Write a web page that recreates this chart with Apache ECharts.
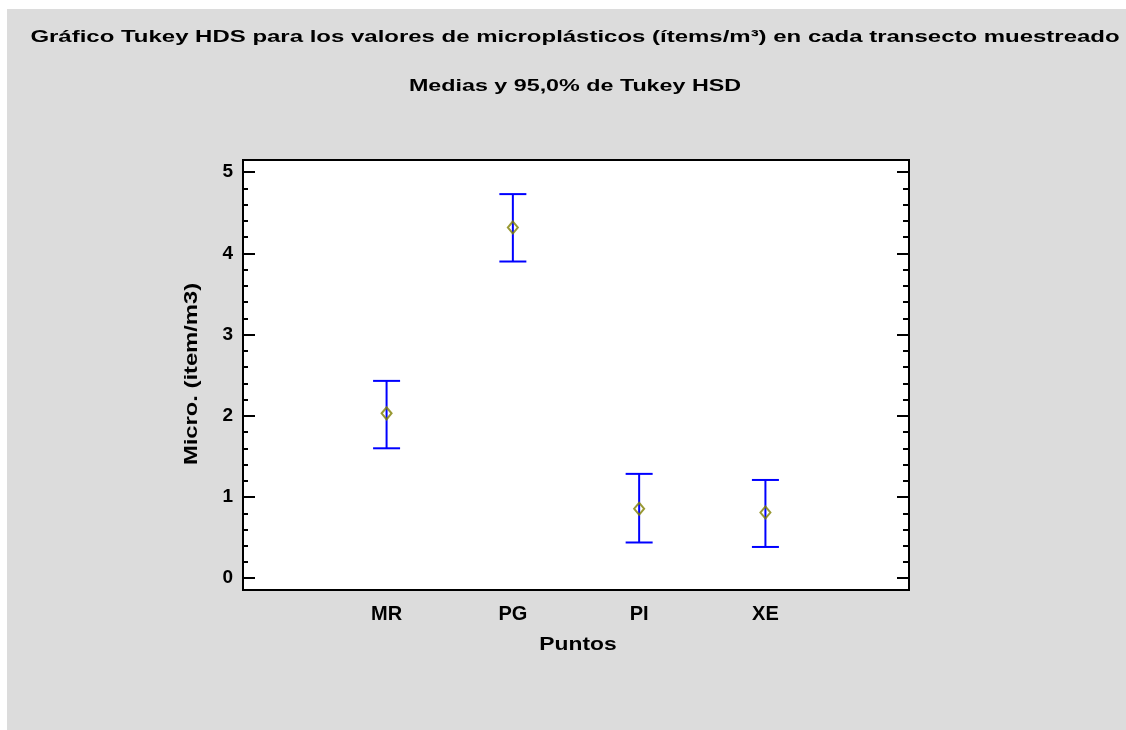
<!DOCTYPE html>
<html>
<head>
<meta charset="utf-8">
<script src="https://cdn.jsdelivr.net/npm/echarts@6/dist/echarts.min.js"></script>
<style>
html,body{margin:0;padding:0;background:#ffffff;}
#chart{position:absolute;left:0;top:0;width:1126px;height:730px;}
</style>
</head>
<body>
<div id="chart"></div>
<script>
// ---- data ----
var categories = ['MR', 'PG', 'PI', 'XE'];
var categoryPos = [1, 2, 3, 4];
var means = [2.03, 4.32, 0.855, 0.81];
var lower = [1.60, 3.90, 0.44, 0.385];
var upper = [2.43, 4.73, 1.285, 1.21];
var yMajorTicks = [0, 1, 2, 3, 4, 5];
var yMinorTicks = [0.2, 0.4, 0.6, 0.8, 1.2, 1.4, 1.6, 1.8, 2.2, 2.4, 2.6, 2.8,
                   3.2, 3.4, 3.6, 3.8, 4.2, 4.4, 4.6, 4.8];
var titleText = 'Gráfico Tukey HDS para los valores de microplásticos (ítems/m³) en cada transecto muestreado';
var subtitleText = 'Medias y 95,0% de Tukey HSD';
var xName = 'Puntos';
var yName = 'Micro. (item/m3)';

var FONT = '"Liberation Sans", Arial, sans-serif';
var yMin = -0.145, yMax = 5.15;
var xMin = -0.137, xMax = 5.137;

var chart = echarts.init(document.getElementById('chart'), null, {renderer: 'canvas'});

function yAxisDef(pos, values, len, labels) {
  return {
    type: 'value', position: pos, min: yMin, max: yMax,
    axisLine: {show: true, onZero: false, lineStyle: {color: '#000', width: 2}},
    axisTick: {show: true, inside: true, length: len, customValues: values,
               lineStyle: {color: '#000', width: 2}},
    axisLabel: {show: labels, customValues: values, color: '#000', fontSize: 19,
                fontWeight: 'bold', fontFamily: FONT, margin: 10},
    splitLine: {show: false}
  };
}

var yAxes = [
  yAxisDef('left', yMajorTicks, 12, true),
  yAxisDef('left', yMinorTicks, 5, false),
  yAxisDef('right', yMajorTicks, 12, false),
  yAxisDef('right', yMinorTicks, 6, false)
];

var barData = categoryPos.map(function (x, i) { return [x, lower[i], upper[i]]; });
var meanData = categoryPos.map(function (x, i) { return [x, means[i]]; });

function txt(text, x, y, size, sx, rot) {
  return {
    type: 'text', x: x, y: y, scaleX: sx, rotation: rot || 0, silent: true, z: 10,
    style: {text: text, fill: '#000', textAlign: 'center', textVerticalAlign: 'middle',
            fontSize: size, fontWeight: 'bold', fontFamily: FONT}
  };
}

var option = {
  backgroundColor: '#ffffff',
  animation: false,
  graphic: [
    {type: 'rect', z: -100, silent: true,
     shape: {x: 7, y: 9, width: 1126, height: 730}, style: {fill: '#dcdcdc'}},
    txt(titleText, 575, 37, 17, 1.41),
    txt(subtitleText, 575, 86, 17, 1.37),
    txt(xName, 578, 645, 19, 1.2),
    txt(yName, 192, 374, 19, 1.25, Math.PI / 2)
  ],
  grid: {
    left: 243, top: 160, width: 666, height: 430,
    show: true, backgroundColor: '#ffffff', borderColor: '#000', borderWidth: 2
  },
  xAxis: {
    type: 'value', min: xMin, max: xMax,
    axisLine: {show: true, onZero: false, lineStyle: {color: '#000', width: 2}},
    axisTick: {show: false},
    axisLabel: {
      customValues: categoryPos, color: '#000', fontSize: 20, fontWeight: 'bold',
      fontFamily: FONT, margin: 14,
      formatter: function (v) { var i = categoryPos.indexOf(Math.round(v)); return i >= 0 ? categories[i] : ''; }
    },
    splitLine: {show: false}
  },
  yAxis: yAxes,
  series: [{
    type: 'custom',
    data: barData,
    encode: {x: 0, y: [1, 2]},
    z: 2,
    renderItem: function (params, api) {
      var x = api.value(0);
      var lo = api.coord([x, api.value(1)]);
      var hi = api.coord([x, api.value(2)]);
      var half = 13.5;
      var st = {stroke: '#0000ff', lineWidth: 2};
      return {
        type: 'group',
        children: [
          {type: 'line', shape: {x1: lo[0], y1: lo[1], x2: hi[0], y2: hi[1]}, style: st},
          {type: 'line', shape: {x1: hi[0] - half, y1: hi[1], x2: hi[0] + half, y2: hi[1]}, style: st},
          {type: 'line', shape: {x1: lo[0] - half, y1: lo[1], x2: lo[0] + half, y2: lo[1]}, style: st}
        ]
      };
    }
  }, {
    type: 'scatter',
    data: meanData,
    symbol: 'diamond',
    symbolSize: [10, 12],
    z: 3,
    itemStyle: {color: 'rgba(0,0,0,0)', borderColor: '#808000', borderWidth: 2}
  }]
};
chart.setOption(option);
</script>
</body>
</html>
